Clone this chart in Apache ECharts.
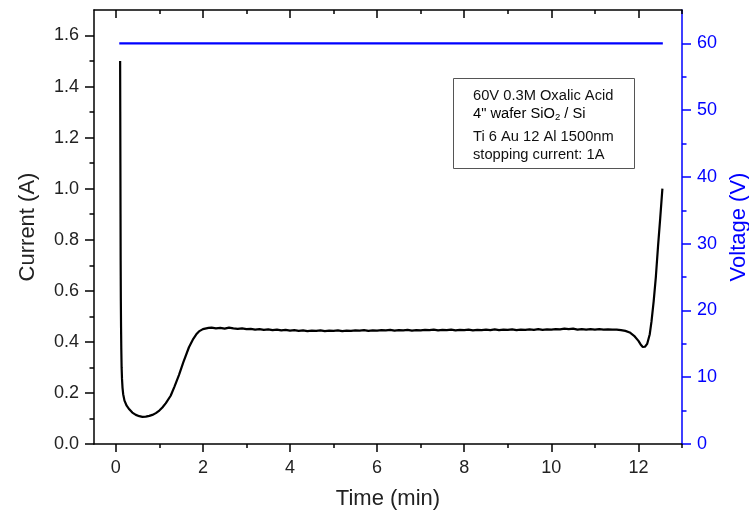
<!DOCTYPE html>
<html>
<head>
<meta charset="utf-8">
<script src="https://cdn.jsdelivr.net/npm/echarts@6/dist/echarts.min.js"></script>
<style>
  html, body { margin: 0; padding: 0; background: #fff; }
  #main { width: 749px; height: 521px; }
</style>
</head>
<body>
<div id="main"></div>
<script>
// time (min) / current (A)
var timeMin = [
  0.100, 0.103, 0.106, 0.109, 0.112, 0.116, 0.121, 0.127, 0.134, 0.143,
  0.155, 0.170, 0.200, 0.250, 0.310, 0.380, 0.460, 0.540, 0.610, 0.690,
  0.770, 0.840, 0.920, 1.000, 1.070, 1.150, 1.260, 1.350, 1.450, 1.550,
  1.680, 1.780, 1.860, 1.910, 2.000, 2.130,
  2.2, 2.3, 2.4, 2.5, 2.6, 2.7, 2.8, 2.9, 3.0, 3.1, 3.2, 3.3, 3.4, 3.5, 3.6, 3.7, 3.8, 3.9,
  4.0, 4.1, 4.2, 4.3, 4.4, 4.5, 4.6, 4.7, 4.8, 4.9, 5.0, 5.1, 5.2, 5.3, 5.4, 5.5, 5.6, 5.7,
  5.8, 5.9, 6.0, 6.1, 6.2, 6.3, 6.4, 6.5, 6.6, 6.7, 6.8, 6.9, 7.0, 7.1, 7.2, 7.3, 7.4, 7.5,
  7.6, 7.7, 7.8, 7.9, 8.0, 8.1, 8.2, 8.3, 8.4, 8.5, 8.6, 8.7, 8.8, 8.9, 9.0, 9.1, 9.2, 9.3,
  9.4, 9.5, 9.6, 9.7, 9.8, 9.9, 10.0, 10.1, 10.2, 10.3, 10.4, 10.5, 10.6, 10.7, 10.8, 10.9,
  11.0, 11.1, 11.2, 11.3, 11.4, 11.5, 11.6, 11.7, 11.8, 11.9, 12.0, 12.05, 12.1, 12.15,
  12.2, 12.26, 12.3, 12.35, 12.4, 12.45, 12.5, 12.55
];
var currentA = [
  1.500, 1.300, 1.100, 0.900, 0.720, 0.570, 0.460, 0.370, 0.300, 0.255,
  0.220, 0.195, 0.170, 0.150, 0.136, 0.123, 0.114, 0.109, 0.106, 0.107,
  0.110, 0.114, 0.121, 0.131, 0.143, 0.160, 0.189, 0.226, 0.270, 0.320,
  0.379, 0.412, 0.432, 0.441, 0.450, 0.455,
  0.456, 0.453, 0.455, 0.452, 0.456, 0.453, 0.451, 0.453, 0.450, 0.451, 0.448, 0.450, 0.447, 0.449, 0.446, 0.448, 0.445, 0.447,
  0.444, 0.446, 0.443, 0.445, 0.442, 0.444, 0.443, 0.445, 0.442, 0.444, 0.443, 0.445, 0.442, 0.444, 0.443, 0.445, 0.444, 0.446,
  0.443, 0.445, 0.444, 0.446, 0.445, 0.447, 0.444, 0.446, 0.445, 0.447, 0.444, 0.446, 0.445, 0.447, 0.446, 0.448, 0.445, 0.447,
  0.446, 0.448, 0.445, 0.447, 0.446, 0.448, 0.445, 0.447, 0.446, 0.448, 0.446, 0.449, 0.446, 0.448, 0.447, 0.449, 0.446, 0.448,
  0.447, 0.449, 0.447, 0.450, 0.447, 0.449, 0.448, 0.450, 0.449, 0.452, 0.450, 0.452, 0.448, 0.450, 0.448, 0.450,
  0.448, 0.450, 0.448, 0.449, 0.448, 0.448, 0.446, 0.443, 0.437, 0.424, 0.404, 0.390, 0.380, 0.381,
  0.392, 0.430, 0.480, 0.560, 0.655, 0.775, 0.885, 1.000
];
// applied voltage (V)
var voltTime = [0.08, 12.56];
var voltV = [60, 60];

// tick values / labels
var xMajor = [0, 2, 4, 6, 8, 10, 12];
var xMinor = [1, 3, 5, 7, 9, 11, 13];
var yMajor = [0, 0.2, 0.4, 0.6, 0.8, 1.0, 1.2, 1.4, 1.6];
var yMinor = [0.1, 0.3, 0.5, 0.7, 0.9, 1.1, 1.3, 1.5];
var vMajor = [0, 10, 20, 30, 40, 50, 60];
var vMinor = [5, 15, 25, 35, 45, 55];
var noteLines = ['60V 0.3M Oxalic Acid', '4" wafer SiO', 'Ti 6 Au 12 Al 1500nm', 'stopping current: 1A'];

var font = 'Liberation Sans, Arial, sans-serif';
var blue = '#0000ff';

function pairs(xs, ys) {
  return xs.map(function (x, i) { return [x, ys[i]]; });
}

var myChart = echarts.init(document.getElementById('main'));

option = {
  backgroundColor: '#fff',
  animation: false,
  textStyle: { fontFamily: font },
  grid: { left: 94, right: 67, top: 10, bottom: 77, containLabel: false, outerBoundsMode: 'none' },
  xAxis: [
    {
      type: 'value', position: 'bottom', min: -0.5, max: 13,
      axisLine: { onZero: false, lineStyle: { color: '#000', width: 1.5 } },
      axisTick: { customValues: xMajor, length: 8, lineStyle: { color: '#000', width: 1.5 } },
      axisLabel: { customValues: xMajor, fontSize: 18, color: '#222', margin: 15, fontFamily: font },
      splitLine: { show: false },
      name: 'Time (min)', nameLocation: 'middle', nameGap: 44,
      nameTextStyle: { fontSize: 22, color: '#222', fontFamily: font }
    },
    {
      type: 'value', position: 'bottom', min: -0.5, max: 13,
      axisLine: { show: false, onZero: false },
      axisTick: { customValues: xMinor, length: 4, lineStyle: { color: '#000', width: 1.5 } },
      axisLabel: { show: false },
      splitLine: { show: false }
    },
    {
      type: 'value', position: 'top', min: -0.5, max: 13,
      axisLine: { onZero: false, lineStyle: { color: '#000', width: 1.5 } },
      axisTick: { inside: true, customValues: xMajor, length: 8, lineStyle: { color: '#000', width: 1.5 } },
      axisLabel: { show: false },
      splitLine: { show: false }
    },
    {
      type: 'value', position: 'top', min: -0.5, max: 13,
      axisLine: { show: false, onZero: false },
      axisTick: { inside: true, customValues: xMinor, length: 4, lineStyle: { color: '#000', width: 1.5 } },
      axisLabel: { show: false },
      splitLine: { show: false }
    }
  ],
  yAxis: [
    {
      type: 'value', position: 'left', min: 0, max: 1.7,
      axisLine: { show: true, onZero: false, lineStyle: { color: '#000', width: 1.5 } },
      axisTick: { show: true, customValues: yMajor, length: 9, lineStyle: { color: '#000', width: 1.5 } },
      axisLabel: {
        customValues: yMajor, fontSize: 18, color: '#222', margin: 15, fontFamily: font,
        formatter: function (v) { return v.toFixed(1); }
      },
      splitLine: { show: false },
      name: 'Current (A)', nameLocation: 'middle', nameGap: 55, nameRotate: 90,
      nameTextStyle: { fontSize: 22, color: '#222', fontFamily: font }
    },
    {
      type: 'value', position: 'right', min: 0, max: 65,
      axisLine: { show: true, onZero: false, lineStyle: { color: blue, width: 1.5 } },
      axisTick: { show: true, customValues: vMajor, length: 9, lineStyle: { color: blue, width: 1.5 } },
      axisLabel: { customValues: vMajor, fontSize: 18, color: blue, margin: 15, fontFamily: font },
      splitLine: { show: false },
      name: 'Voltage (V)', nameLocation: 'middle', nameGap: 45, nameRotate: 90,
      nameTextStyle: { fontSize: 22, color: blue, fontFamily: font }
    },
    {
      type: 'value', position: 'left', min: 0, max: 1.7,
      axisLine: { show: false, onZero: false },
      axisTick: { show: true, customValues: yMinor, length: 4.5, lineStyle: { color: '#000', width: 1.5 } },
      axisLabel: { show: false },
      splitLine: { show: false }
    },
    {
      type: 'value', position: 'right', min: 0, max: 65,
      axisLine: { show: false, onZero: false },
      axisTick: { show: true, customValues: vMinor, length: 4.5, lineStyle: { color: blue, width: 1.5 } },
      axisLabel: { show: false },
      splitLine: { show: false }
    }
  ],
  graphic: [
    {
      type: 'rect', left: 453, top: 78, z: 10,
      shape: { width: 181, height: 90 },
      style: { fill: '#fff', stroke: '#555', lineWidth: 1 }
    },
    {
      type: 'text', left: 473, top: 88, z: 11,
      style: { text: noteLines[0], font: '14.7px ' + font, fill: '#111' }
    },
    {
      type: 'text', left: 473, top: 106, z: 11,
      style: {
        text: '{a|' + noteLines[1] + '}{s|2}{a| / Si}',
        rich: {
          a: { fontSize: 14.7, fontFamily: font, color: '#111', lineHeight: 18 },
          s: { fontSize: 9.5, fontFamily: font, color: '#111', lineHeight: 6, verticalAlign: 'bottom' }
        }
      }
    },
    {
      type: 'text', left: 473, top: 129, z: 11,
      style: { text: noteLines[2], font: '14.7px ' + font, fill: '#111' }
    },
    {
      type: 'text', left: 473, top: 147, z: 11,
      style: { text: noteLines[3], font: '14.7px ' + font, fill: '#111' }
    }
  ],
  series: [
    {
      name: 'Current', type: 'line', xAxisIndex: 0, yAxisIndex: 0,
      showSymbol: false, data: pairs(timeMin, currentA),
      lineStyle: { color: '#000', width: 2.2 }, itemStyle: { color: '#000' }
    },
    {
      name: 'Voltage', type: 'line', xAxisIndex: 0, yAxisIndex: 1,
      showSymbol: false, data: pairs(voltTime, voltV),
      lineStyle: { color: blue, width: 2.2 }, itemStyle: { color: blue }
    }
  ]
};

myChart.setOption(option);
</script>
</body>
</html>
